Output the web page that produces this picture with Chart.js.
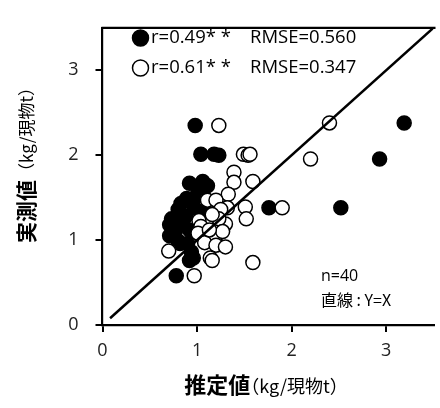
<!DOCTYPE html>
<html>
<head>
<meta charset="utf-8">
<script src="https://cdn.jsdelivr.net/npm/chart.js@4.4.1/dist/chart.umd.min.js"></script>
<style>
  html, body { margin: 0; padding: 0; background: #fff; overflow: hidden; }
  #wrap { width: 442px; height: 408px; }
</style>
</head>
<body>
<div id="wrap"><canvas id="chart"></canvas></div>
<script>
// 推定値 (x) と 実測値 (y)
const filledX = [0.98, 1.04, 1.18, 1.23, 3.19, 2.93, 1.76, 2.52, 0.78, 0.92,
                 0.92, 1.06, 1.11, 1.01, 0.89, 0.83, 0.80, 0.73, 0.71, 0.77,
                 0.71, 0.80, 0.90, 0.94, 0.96, 1.08, 0.97, 0.92, 0.85, 0.99, 0.82, 0.88];
const filledY = [2.35, 2.01, 2.01, 2.00, 2.38, 1.955, 1.38, 1.38, 0.58, 0.76,
                 1.67, 1.69, 1.64, 1.58, 1.49, 1.43, 1.36, 1.25, 1.18, 1.10,
                 1.05, 0.99, 0.96, 0.86, 0.79, 1.34, 1.38, 1.12, 1.21, 1.51, 0.96, 1.28];
const openX = [1.23, 1.49, 1.54, 1.56, 2.40, 2.20, 1.90, 1.59, 0.97, 0.70,
               1.39, 1.39, 1.59, 1.33, 1.11, 1.20, 1.51, 1.32, 1.25, 1.52,
               1.02, 1.30, 1.23, 1.04, 1.01, 1.20, 1.08, 1.20, 1.30, 1.14, 1.16, 1.16, 1.27, 1.13];
const openY = [2.35, 2.01, 2.00, 2.01, 2.38, 1.955, 1.38, 0.735, 0.58, 0.87,
               1.80, 1.68, 1.69, 1.54, 1.47, 1.47, 1.39, 1.38, 1.36, 1.25,
               1.23, 1.19, 1.25, 1.16, 1.08, 1.05, 0.97, 0.94, 0.92, 0.79, 0.76, 1.30, 1.10, 1.12];
const lineX = [0.08, 3.5];
const tickVals = [0, 1, 2, 3];
const legendRows = [
  { filled: true, r: 'r=0.49* *', rmse: 'RMSE=0.560' },
  { filled: false, r: 'r=0.61* *', rmse: 'RMSE=0.347' }
];
const noteLines = ['n=40', '直線 : Y=X'];

const toPts = (xs, ys) => xs.map((x, i) => ({ x: x, y: ys[i] }));
const OS = '"Open Sans", "Noto Sans CJK JP", sans-serif';
const JP = '"Noto Sans CJK JP", sans-serif';

const decor = {
  id: 'decor',
  afterDraw(chart) {
    const c = chart.ctx;
    const a = chart.chartArea;
    c.save();
    // top frame
    c.strokeStyle = '#000';
    c.lineWidth = 2.2;
    c.beginPath();
    c.moveTo(a.left - 1, a.top);
    c.lineTo(a.right + 2, a.top);
    c.stroke();

    // legend
    c.textBaseline = 'middle';
    legendRows.forEach((row, i) => {
      const y = 38 + i * 30;
      c.beginPath();
      c.arc(140.5, y, 8, 0, Math.PI * 2);
      c.fillStyle = row.filled ? '#000' : '#fff';
      c.fill();
      c.lineWidth = 1.5;
      c.strokeStyle = '#000';
      c.stroke();
      c.fillStyle = '#000';
      c.font = '18.5px ' + OS;
      c.textAlign = 'left';
      c.fillText(row.r, 151, y);
      c.fillText(row.rmse, 250, y);
    });

    // notes
    c.fillStyle = '#000';
    c.font = '16px ' + OS;
    c.fillText(noteLines[0], 321, 276);
    c.font = '16px ' + JP;
    c.fillText(noteLines[1], 321, 300);

    // x title
    const xt1 = '推定値', xt2 = '（kg/現物t）';
    c.font = 'bold 22px ' + JP;
    const w1 = c.measureText(xt1).width;
    c.font = '18px ' + JP;
    const w2 = c.measureText(xt2).width - 9;
    const x0 = 266 - (w1 + w2) / 2;
    c.fillStyle = '#000';
    c.font = 'bold 22px ' + JP;
    c.fillText(xt1, x0, 385);
    c.font = '18px ' + JP;
    c.fillText(xt2, x0 + w1 - 9, 386);

    // y title
    const yt1 = '実測値', yt2 = '（kg/現物t）';
    c.translate(26, 161);
    c.rotate(-Math.PI / 2);
    c.font = 'bold 21px ' + JP;
    const v1 = c.measureText(yt1).width;
    c.font = '17px ' + JP;
    const v2 = c.measureText(yt2).width;
    const s0 = -(v1 + v2) / 2;
    c.font = 'bold 21px ' + JP;
    c.fillText(yt1, s0, 0);
    c.font = '17px ' + JP;
    c.fillText(yt2, s0 + v1, 1);
    c.restore();
  }
};

new Chart(document.getElementById('chart'), {
  type: 'scatter',
  data: {
    datasets: [
      {
        type: 'line',
        data: toPts(lineX, lineX),
        borderColor: '#000',
        borderWidth: 2.5,
        pointRadius: 0,
        order: 0
      },
      {
        data: toPts(openX, openY),
        pointRadius: 7,
        pointBackgroundColor: '#fff',
        pointBorderColor: '#000',
        pointBorderWidth: 1.5,
        order: 1
      },
      {
        data: toPts(filledX, filledY),
        pointRadius: 7,
        pointBackgroundColor: '#000',
        pointBorderColor: '#000',
        pointBorderWidth: 1.5,
        order: 2
      }
    ]
  },
  options: {
    responsive: true,
    maintainAspectRatio: false,
    animation: false,
    layout: { padding: { top: 7.5, right: 0, left: 0, bottom: 0 } },
    plugins: { legend: { display: false }, tooltip: { enabled: false } },
    scales: {
      x: {
        type: 'linear',
        min: 0,
        max: 3.5,
        afterFit: (s) => { s.height = 83; },
        afterBuildTicks: (s) => { s.ticks = tickVals.map(v => ({ value: v })); },
        border: { color: '#000', width: 2.2 },
        grid: { drawOnChartArea: false, color: '#000', lineWidth: 2, tickLength: 7 },
        ticks: { color: '#222', padding: 8, font: { family: OS, size: 18 } }
      },
      y: {
        type: 'linear',
        min: 0,
        max: 3.5,
        afterFit: (s) => { s.width = 102.5; },
        afterBuildTicks: (s) => { s.ticks = tickVals.map(v => ({ value: v })); },
        border: { color: '#000', width: 2.2 },
        grid: { drawOnChartArea: false, color: '#000', lineWidth: 2, tickLength: 7 },
        ticks: { color: '#222', padding: 17, font: { family: OS, size: 18 } }
      }
    }
  },
  plugins: [decor]
});
</script>
</body>
</html>
